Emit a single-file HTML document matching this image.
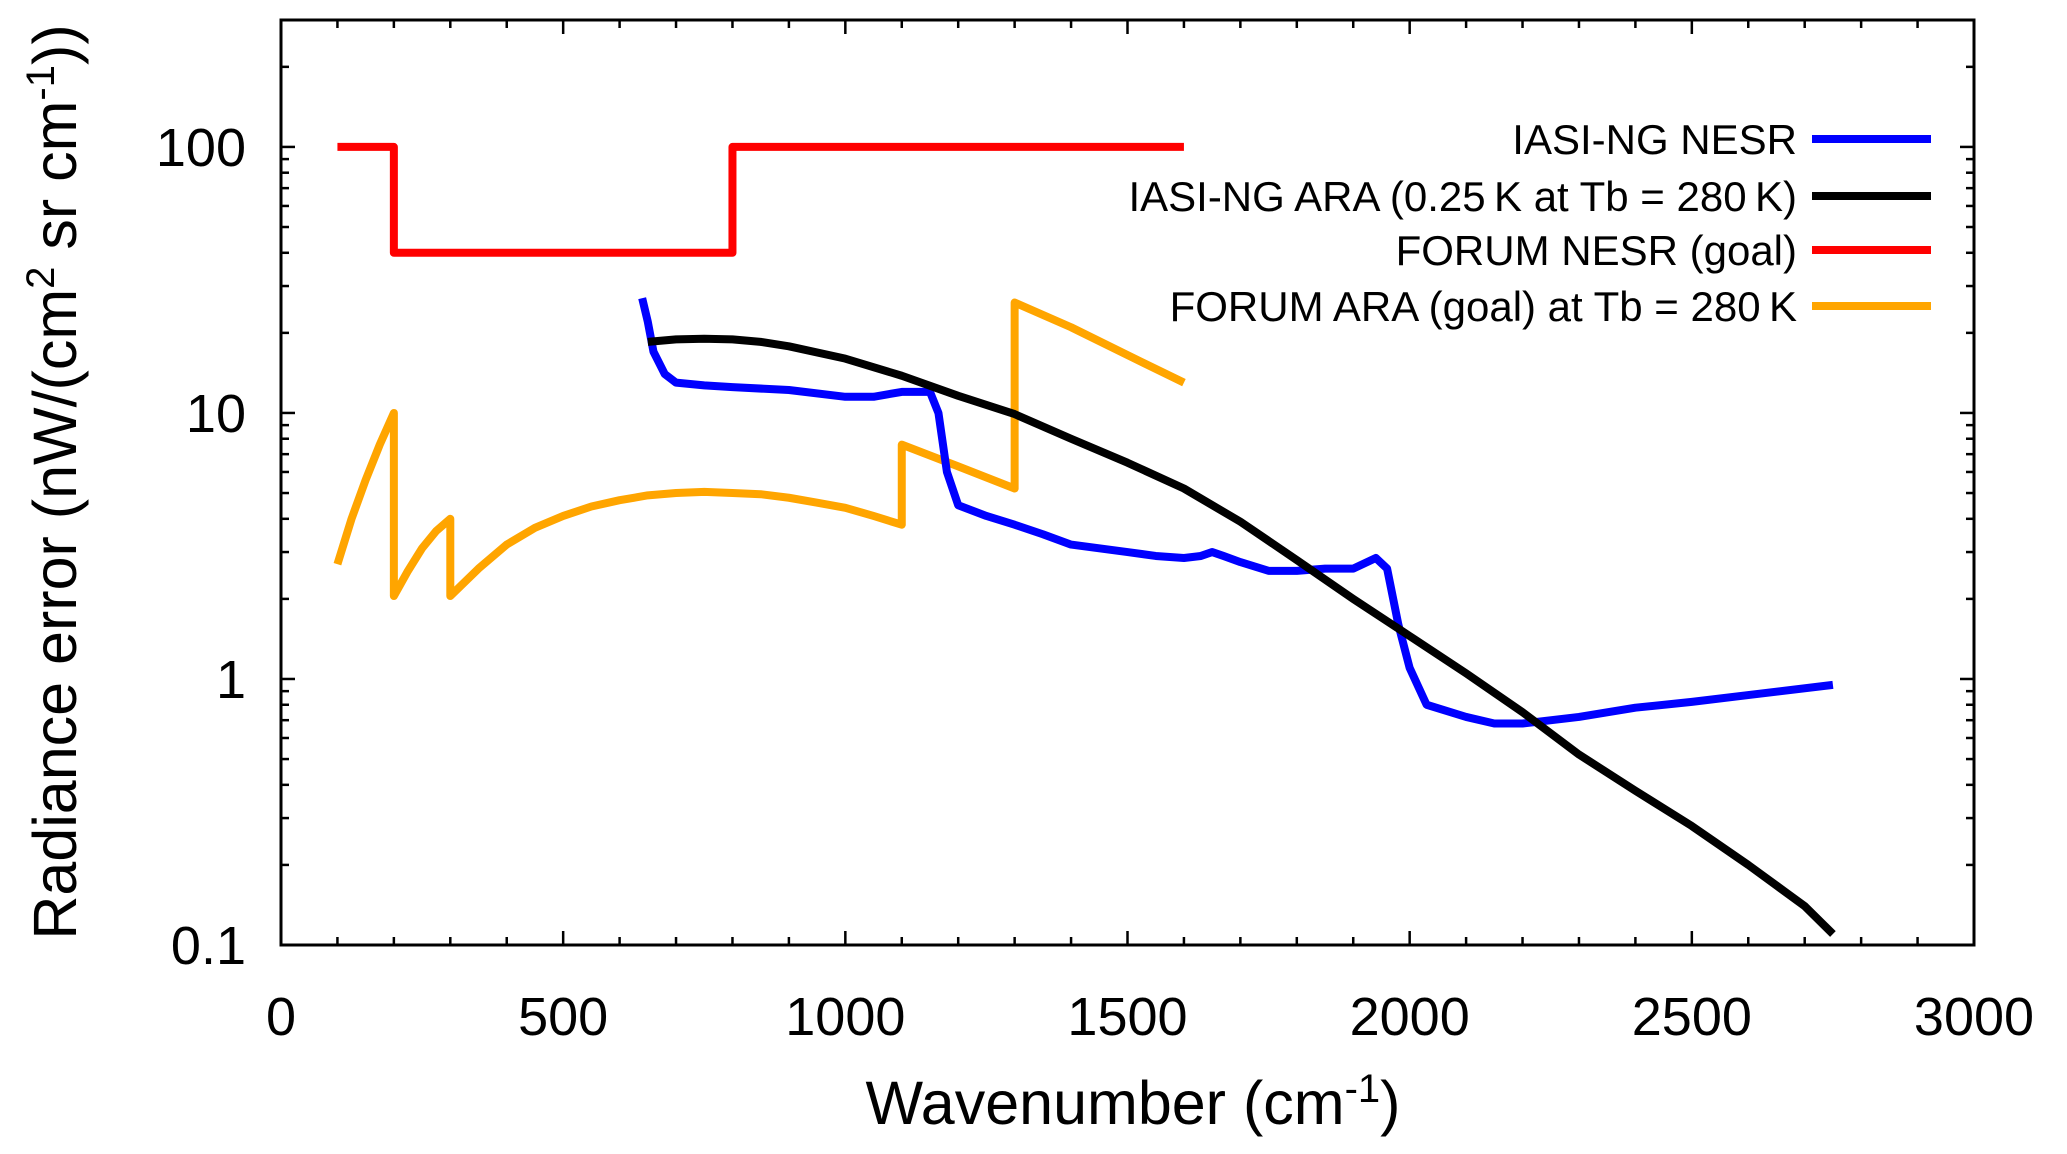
<!DOCTYPE html>
<html><head><meta charset="utf-8"><style>
body{margin:0;background:#fff}
svg{display:block;font-family:"Liberation Sans",sans-serif}
</style></head><body>
<svg id="chart" width="2067" height="1154" viewBox="0 0 2067 1154" xmlns="http://www.w3.org/2000/svg">
<g id="ticks"></g>
<g id="series"></g>
<rect x="281" y="20" width="1693" height="925" fill="none" stroke="#000" stroke-width="3"/>
<g id="labels" font-size="54" fill="#000"></g>
<text transform="translate(76,482) rotate(-90)" text-anchor="middle" font-size="61">Radiance error (nW/(cm<tspan font-size="40" dy="-22">2</tspan><tspan dy="22"> sr cm</tspan><tspan font-size="40" dy="-22">-1</tspan><tspan dy="22">))</tspan></text>
<text x="1133" y="1124" text-anchor="middle" font-size="61">Wavenumber (cm<tspan font-size="40" dy="-22">-1</tspan><tspan dy="22">)</tspan></text>
<g id="legend" font-size="42"></g>
</svg>
<script>
const xTicks=[0,500,1000,1500,2000,2500,3000];
const yTicks=[0.1,1,10,100];
const yTickLabels=["0.1","1","10","100"];
const redX=[100,200,200,800,800,1600];
const redY=[100,100,40,40,100,100];
const orangeX=[100,125,150,175,200,200,225,250,275,300,300,350,400,450,500,550,600,650,700,750,800,850,900,950,1000,1050,1100,1100,1200,1300,1300,1400,1500,1600];
const orangeY=[2.7,4.0,5.6,7.6,10,2.05,2.55,3.1,3.6,4.0,2.05,2.6,3.2,3.7,4.1,4.45,4.7,4.9,5.0,5.05,5.0,4.95,4.8,4.6,4.4,4.1,3.8,7.6,6.3,5.2,26,21,16.5,13];
const blackX=[650,700,750,800,850,900,1000,1100,1200,1300,1400,1500,1600,1700,1800,1900,2000,2100,2200,2300,2400,2500,2600,2700,2750];
const blackY=[18.5,18.9,19,18.9,18.5,17.8,16,13.8,11.6,9.9,8.0,6.5,5.2,3.9,2.8,2.0,1.45,1.05,0.75,0.52,0.38,0.28,0.2,0.14,0.11];
const blueX=[640,650,660,680,700,750,800,900,1000,1050,1100,1150,1165,1180,1200,1250,1300,1350,1400,1500,1550,1600,1630,1650,1670,1700,1750,1800,1850,1900,1940,1960,1980,2000,2030,2100,2150,2200,2300,2400,2500,2600,2750];
const blueY=[27,22,17,14,13,12.7,12.5,12.2,11.5,11.5,12,12,10,6,4.5,4.1,3.8,3.5,3.2,3.0,2.9,2.85,2.9,3.0,2.9,2.75,2.55,2.55,2.6,2.6,2.85,2.6,1.6,1.1,0.8,0.72,0.68,0.68,0.72,0.78,0.82,0.87,0.95];
const legendNames=["IASI-NG NESR","IASI-NG ARA (0.25\u2009K at Tb = 280\u2009K)","FORUM NESR (goal)","FORUM ARA (goal) at Tb = 280\u2009K"];
const L=281,R=1974,T=20,B=945;
const X=v=>L+(v/3000)*(R-L);
const yMin=Math.log10(0.1),yMax=Math.log10(300);
const Y=v=>B-(Math.log10(v)-yMin)/(yMax-yMin)*(B-T);
const NS="http://www.w3.org/2000/svg";
function mk(tag,attrs,parent){const e=document.createElementNS(NS,tag);for(const k in attrs)e.setAttribute(k,attrs[k]);parent.appendChild(e);return e;}
const tg=document.getElementById('ticks'),lg=document.getElementById('labels');
for(let v=0;v<=3000;v+=100){
  const len=v%500===0?14:8;
  const t1=mk('line',{x1:X(v),x2:X(v),y1:B,y2:B-len,stroke:'#000','stroke-width':2.5},tg);
  
  
  const t2=mk('line',{x1:X(v),x2:X(v),y1:T,y2:T+len,stroke:'#000','stroke-width':2.5},tg);
  
  
}
xTicks.forEach(v=>{const t=mk('text',{x:X(v),y:1035,'text-anchor':'middle'},lg);t.textContent=v;
  
  });
for(let d=-1;d<=2;d++){for(let m=1;m<=9;m++){const v=m*Math.pow(10,d);if(v>300)break;
  const len=m===1?14:8;
  const t1=mk('line',{x1:L,x2:L+len,y1:Y(v),y2:Y(v),stroke:'#000','stroke-width':2.5},tg);
  
  
  const t2=mk('line',{x1:R,x2:R-len,y1:Y(v),y2:Y(v),stroke:'#000','stroke-width':2.5},tg);
  
  
}}
yTicks.forEach((v,i)=>{const t=mk('text',{x:246,y:Y(v)+19,'text-anchor':'end'},lg);t.textContent=yTickLabels[i];
  
  });
const sg=document.getElementById('series');
function line(xs,ys,color,name){
  const p=mk('polyline',{points:xs.map((x,i)=>X(x)+','+Y(ys[i])).join(' '),fill:'none',stroke:color,'stroke-width':8,'stroke-linejoin':'round'},sg);
  
  
}
line(redX,redY,'#ff0000','forum-nesr-line');
line(orangeX,orangeY,'#ffa500','forum-ara-line');
line(blueX,blueY,'#0000ff','iasi-ng-nesr-line');
line(blackX,blackY,'#000000','iasi-ng-ara-line');
const colors=['#0000ff','#000000','#ff0000','#ffa500'];
const rows=[139,196,250,306];
const leg=document.getElementById('legend');
legendNames.forEach((n,i)=>{
  const t=mk('text',{x:1797,y:rows[i]+15,'text-anchor':'end'},leg);t.textContent=n;
  
  
  const l=mk('line',{x1:1812,x2:1931,y1:rows[i],y2:rows[i],stroke:colors[i],'stroke-width':8},leg);
  
  
});
</script>
</body></html>
